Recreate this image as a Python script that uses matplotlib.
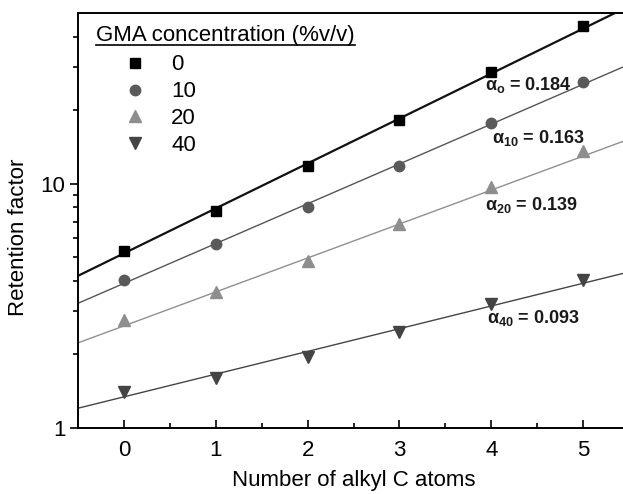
import matplotlib
matplotlib.use("Agg")
import matplotlib.pyplot as plt
import numpy as np
from matplotlib.ticker import FixedLocator, NullFormatter

plt.rcParams['font.family'] = ['Liberation Sans', 'DejaVu Sans']
plt.rcParams['mathtext.fontset'] = 'custom'
plt.rcParams['mathtext.rm'] = 'Liberation Sans:bold'
plt.rcParams['mathtext.it'] = 'Liberation Sans:bold'
plt.rcParams['mathtext.bf'] = 'Liberation Sans:bold'

carbons = [0, 1, 2, 3, 4, 5]
gma_labels = ['0', '10', '20', '40']
k_gma0 = [5.28, 7.77, 11.8, 18.2, 28.8, 44.2]
k_gma10 = [4.04, 5.66, 8.02, 11.8, 17.8, 26.2]
k_gma20 = [2.76, 3.61, 4.83, 6.85, 9.69, 13.6]
k_gma40 = [1.41, 1.60, 1.95, 2.48, 3.21, 4.03]
alphas = [0.184, 0.163, 0.139, 0.093]
intercepts = [0.715, 0.592, 0.418, 0.1275]
alpha_subs = ['o', '10', '20', '40']

series = [k_gma0, k_gma10, k_gma20, k_gma40]
markers = ['s', 'o', '^', 'v']
mcolors = ['#000000', '#5a5a5a', '#8e8e8e', '#444444']
lcolors = ['#111111', '#555555', '#909090', '#454545']
lwidths = [1.6, 1.0, 1.0, 1.0]
msizes = [6.5, 7.5, 8, 8]

fig = plt.figure(figsize=(6.23, 4.94), dpi=100)
ax = fig.add_axes([78/623, 1-428/494, 551/623, 415/494])
ax.set_yscale('log')
ax.set_xlim(-0.5, 5.5)
ax.set_ylim(1, 50)

xfit = np.array([-0.5, 5.5])
handles = []
for ys, m, mc, lc, lw, ms, a, b, lab in zip(series, markers, mcolors, lcolors, lwidths, msizes, alphas, intercepts, gma_labels):
    ax.plot(xfit, 10 ** (b + a * xfit), color=lc, lw=lw, zorder=2)
    h, = ax.plot(carbons, ys, linestyle='none', marker=m, ms=ms, color=mc, mec=mc, zorder=3, label=lab)
    handles.append(h)

# annotations
ann_pos = [(485, 85), (492, 138), (485, 205), (487, 318)]
for (px, py), sub, a in zip(ann_pos, alpha_subs, alphas):
    fig.text(px/623, 1-py/494, r'$\alpha_{%s}$ = %.3f' % (sub, a),
             fontsize=13, fontweight='bold', ha='left', va='center', color='#1a1a1a')

# legend title (underlined)
title = fig.text(96/623, 1-35/494, 'GMA concentration (%v/v)', fontsize=16,
                 ha='left', va='center')
fig.canvas.draw()
bb = title.get_window_extent()
inv = fig.transFigure.inverted()
(x0, y0), (x1, y1) = inv.transform([(bb.x0, bb.y0), (bb.x1, bb.y1)])
fig.add_artist(plt.Line2D([x0, x1], [y0 + 0.002, y0 + 0.002], transform=fig.transFigure,
                          color='black', lw=1.2))

# legend entries
em = 16 * 100 / 72.0
left_px = 135 - 0.5 * em
top_px = 62 - 0.5 * 27 + 6
leg = ax.legend(handles=handles, loc='upper left',
                bbox_to_anchor=(left_px/623, 1 - top_px/494), bbox_transform=fig.transFigure,
                frameon=False, fontsize=16, handlelength=1.0,
                handletextpad=(171 - 135 - 0.5 * em) / em, labelspacing=0.265,
                borderpad=0.0, borderaxespad=0.0)

# ticks
ax.xaxis.set_major_locator(FixedLocator([0, 1, 2, 3, 4, 5]))
ax.xaxis.set_minor_locator(FixedLocator([0.5, 1.5, 2.5, 3.5, 4.5]))
ax.set_xticklabels(['0', '1', '2', '3', '4', '5'])
ax.yaxis.set_major_locator(FixedLocator([1, 10]))
ax.set_yticklabels(['1', '10'])
ax.yaxis.set_minor_locator(FixedLocator([2, 3, 4, 5, 6, 7, 8, 9, 20, 30, 40]))
ax.yaxis.set_minor_formatter(NullFormatter())
ax.tick_params(axis='x', which='major', direction='in', length=6, width=1.2, labelsize=16, pad=9)
ax.tick_params(axis='x', which='minor', direction='in', length=3.5, width=1.2)
ax.tick_params(axis='y', which='major', direction='out', length=6, width=1.2, labelsize=16, pad=3)
ax.tick_params(axis='y', which='minor', direction='out', length=3.5, width=1.2)

for s in ['left', 'bottom', 'top', 'right']:
    ax.spines[s].set_linewidth(1.4)

ax.set_xlabel('Number of alkyl C atoms', fontsize=16, labelpad=6)
ax.set_ylabel('Retention factor', fontsize=16)
ax.yaxis.set_label_coords(-(78 - 29) / 551, (428 - 237) / 415)

fig.savefig('out.png', dpi=100)
